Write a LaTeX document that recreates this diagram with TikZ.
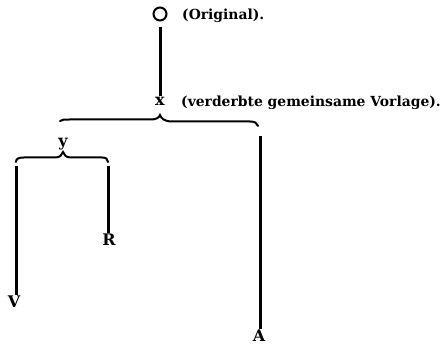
\documentclass[tikz,border=0pt]{standalone}
\usepackage{fontspec}
\setmainfont{DejaVu Serif}

\tikzset{
  trunk/.style={line width=3pt},
  twig/.style={line width=2pt, line cap=round},
  siglum/.style={font=\bfseries\fontsize{16}{18}\selectfont, inner sep=1pt},
  remark/.style={font=\bfseries\fontsize{13.9}{16}\selectfont, anchor=west, inner sep=0pt}
}

\begin{document}
\begin{tikzpicture}[x=1pt, y=-1pt]
    \useasboundingbox (0,0) rectangle (445,347);

    % Define the manuscripts
    \node[circle, draw, line width=2pt, minimum size=13pt, inner sep=0pt] (orig) at (160,14) {};
    \node[siglum] (x) at (160,101) {x};
    \node[siglum] (y) at (63,144) {y};
    \node[siglum] (V) at (14,302) {V};
    \node[siglum] (R) at (109,240) {R};
    \node[siglum] (A) at (259,336) {A};

    % Place the remarks
    \node[remark] (orignote) at (182,16) {(Original).};
    \node[remark] (xnote) at (181,103) {(verderbte gemeinsame Vorlage).};

    % Define the ends of the braces
    \coordinate (xl) at (60,121);
    \coordinate (xr) at (258,126);
    \coordinate (yl) at (16,162);
    \coordinate (yr) at (108,162);
    \coordinate (At) at (260,136);

    % Draw the stemma
    \draw[trunk] ([yshift=-6pt]orig.south) -- (x.north);
    \draw[twig] (xl) .. controls (62,119.5) and (64,119.5) .. (70,119.5) -- (150,119.5)
        .. controls (156,119.5) and (159,118) .. (160,115)
        .. controls (161,118) and (164,121.5) .. (172,121.5) -- (250,121.5)
        .. controls (255,121.5) and (257,123) .. (xr);
    \draw[twig] (yl) .. controls (16,159) and (18,157.5) .. (24,157.5) -- (55,157.5)
        .. controls (60,157.5) and (62,155) .. (63,152)
        .. controls (64,155) and (66,157.5) .. (71,157.5) -- (102,157.5)
        .. controls (106,157.5) and (108,159) .. (yr);

    % Draw the branches
    \draw[trunk] ([yshift=-4pt]yl) -- (V.north -| yl);
    \draw[trunk] ([yshift=-4pt]yr) -- (R.north -| yr);
    \draw[trunk] (At) -- (A.north -| At);

\end{tikzpicture}
\end{document}
